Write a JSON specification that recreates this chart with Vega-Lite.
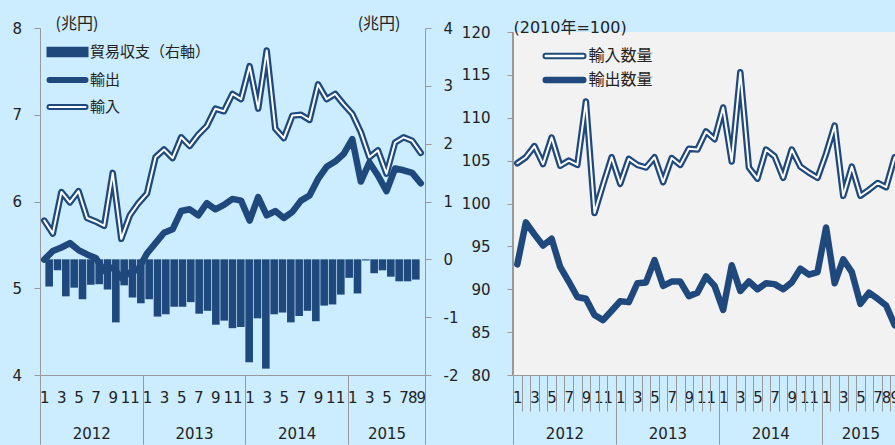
{
  "$schema": "https://vega.github.io/schema/vega-lite/v6.json",
  "background": "#CCECFF",
  "padding": {"left": 11, "top": 15, "right": -5, "bottom": 0},
  "spacing": 3,
  "datasets": {
    "trade": [
      {"m":1,"month":"2012-01","exp":5.33,"imp":5.78,"bal":-0.47,"impVol":104.7,"expVol":92.9},
      {"m":2,"month":"2012-02","exp":5.43,"imp":5.63,"bal":-0.19,"impVol":105.4,"expVol":97.8},
      {"m":3,"month":"2012-03","exp":5.47,"imp":6.11,"bal":-0.64,"impVol":106.7,"expVol":96.4},
      {"m":4,"month":"2012-04","exp":5.52,"imp":5.99,"bal":-0.49,"impVol":104.6,"expVol":95.1},
      {"m":5,"month":"2012-05","exp":5.44,"imp":6.12,"bal":-0.69,"impVol":107.7,"expVol":95.9},
      {"m":6,"month":"2012-06","exp":5.39,"imp":5.81,"bal":-0.44,"impVol":104.4,"expVol":92.6},
      {"m":7,"month":"2012-07","exp":5.35,"imp":5.77,"bal":-0.43,"impVol":105.0,"expVol":90.9},
      {"m":8,"month":"2012-08","exp":5.20,"imp":5.72,"bal":-0.52,"impVol":104.5,"expVol":89.1},
      {"m":9,"month":"2012-09","exp":5.24,"imp":6.33,"bal":-1.09,"impVol":111.9,"expVol":88.9},
      {"m":10,"month":"2012-10","exp":5.12,"imp":5.57,"bal":-0.45,"impVol":98.9,"expVol":87.0},
      {"m":11,"month":"2012-11","exp":5.18,"imp":5.84,"bal":-0.66,"impVol":102.2,"expVol":86.4},
      {"m":12,"month":"2012-12","exp":5.22,"imp":5.98,"bal":-0.76,"impVol":105.4,"expVol":87.5},
      {"m":13,"month":"2013-01","exp":5.40,"imp":6.09,"bal":-0.69,"impVol":102.3,"expVol":88.6},
      {"m":14,"month":"2013-02","exp":5.52,"imp":6.51,"bal":-0.99,"impVol":105.2,"expVol":88.5},
      {"m":15,"month":"2013-03","exp":5.64,"imp":6.60,"bal":-0.95,"impVol":104.5,"expVol":90.7},
      {"m":16,"month":"2013-04","exp":5.68,"imp":6.50,"bal":-0.82,"impVol":104.2,"expVol":90.8},
      {"m":17,"month":"2013-05","exp":5.89,"imp":6.74,"bal":-0.82,"impVol":105.4,"expVol":93.4},
      {"m":18,"month":"2013-06","exp":5.91,"imp":6.64,"bal":-0.74,"impVol":102.5,"expVol":90.4},
      {"m":19,"month":"2013-07","exp":5.84,"imp":6.77,"bal":-0.94,"impVol":105.3,"expVol":90.9},
      {"m":20,"month":"2013-08","exp":5.98,"imp":6.87,"bal":-0.89,"impVol":104.5,"expVol":90.9},
      {"m":21,"month":"2013-09","exp":5.91,"imp":7.07,"bal":-1.13,"impVol":106.4,"expVol":89.2},
      {"m":22,"month":"2013-10","exp":5.96,"imp":7.04,"bal":-1.06,"impVol":106.3,"expVol":89.6},
      {"m":23,"month":"2013-11","exp":6.03,"imp":7.24,"bal":-1.19,"impVol":108.4,"expVol":91.5},
      {"m":24,"month":"2013-12","exp":6.01,"imp":7.18,"bal":-1.17,"impVol":107.5,"expVol":90.4},
      {"m":25,"month":"2014-01","exp":5.78,"imp":7.56,"bal":-1.78,"impVol":111.2,"expVol":87.6},
      {"m":26,"month":"2014-02","exp":6.05,"imp":7.07,"bal":-1.02,"impVol":104.9,"expVol":92.8},
      {"m":27,"month":"2014-03","exp":5.84,"imp":7.74,"bal":-1.89,"impVol":115.3,"expVol":89.8},
      {"m":28,"month":"2014-04","exp":5.89,"imp":6.84,"bal":-0.95,"impVol":104.2,"expVol":90.9},
      {"m":29,"month":"2014-05","exp":5.81,"imp":6.73,"bal":-0.92,"impVol":102.9,"expVol":90.0},
      {"m":30,"month":"2014-06","exp":5.88,"imp":6.99,"bal":-1.09,"impVol":106.3,"expVol":90.7},
      {"m":31,"month":"2014-07","exp":6.01,"imp":7.00,"bal":-0.98,"impVol":105.5,"expVol":90.6},
      {"m":32,"month":"2014-08","exp":6.07,"imp":6.94,"bal":-0.89,"impVol":103.0,"expVol":90.0},
      {"m":33,"month":"2014-09","exp":6.26,"imp":7.35,"bal":-1.07,"impVol":106.3,"expVol":90.8},
      {"m":34,"month":"2014-10","exp":6.40,"imp":7.18,"bal":-0.80,"impVol":104.3,"expVol":92.4},
      {"m":35,"month":"2014-11","exp":6.46,"imp":7.24,"bal":-0.78,"impVol":103.6,"expVol":91.7},
      {"m":36,"month":"2014-12","exp":6.55,"imp":7.12,"bal":-0.61,"impVol":103.0,"expVol":92.0},
      {"m":37,"month":"2015-01","exp":6.72,"imp":7.01,"bal":-0.32,"impVol":105.8,"expVol":97.2},
      {"m":38,"month":"2015-02","exp":6.23,"imp":6.80,"bal":-0.59,"impVol":109.1,"expVol":90.7},
      {"m":39,"month":"2015-03","exp":6.45,"imp":6.51,"bal":-0.02,"impVol":100.9,"expVol":93.5},
      {"m":40,"month":"2015-04","exp":6.30,"imp":6.59,"bal":-0.24,"impVol":104.3,"expVol":92.0},
      {"m":41,"month":"2015-05","exp":6.12,"imp":6.32,"bal":-0.19,"impVol":100.9,"expVol":88.3},
      {"m":42,"month":"2015-06","exp":6.38,"imp":6.68,"bal":-0.30,"impVol":101.6,"expVol":89.6},
      {"m":43,"month":"2015-07","exp":6.36,"imp":6.74,"bal":-0.38,"impVol":102.4,"expVol":88.9},
      {"m":44,"month":"2015-08","exp":6.33,"imp":6.70,"bal":-0.38,"impVol":101.9,"expVol":88.1},
      {"m":45,"month":"2015-09","exp":6.21,"imp":6.56,"bal":-0.35,"impVol":105.4,"expVol":85.8}
    ]
  },
  "hconcat": [
    {
      "width": 385,
      "height": 347,
      "data": {"name": "trade"},
      "layer": [
        {
          "layer": [
            {
              "mark": {"type": "line", "stroke": "#1F497D", "strokeWidth": 6.5, "strokeJoin": "round", "strokeCap": "round"},
              "encoding": {
                "x": {"field": "m", "type": "quantitative", "scale": {"domain": [0.5, 45.5], "nice": false, "zero": false},
                  "axis": {"orient": "bottom", "values": [1,3,5,7,9,11,13,15,17,19,21,23,25,27,29,31,33,35,37,39,41,43,44,45], "labelExpr": "toString((datum.value-1)%12+1)", "ticks": false, "tickSize": 0, "domain": false, "labelPadding": 22, "labelBaseline": "middle", "labelAlign": "center", "title": null}},
                "y": {"field": "exp", "type": "quantitative", "scale": {"domain": [4, 8], "nice": false, "zero": false},
                  "axis": {"orient": "left", "values": [4,5,6,7,8], "format": "d", "tickSize": 6, "labelPadding": 12.5, "title": "(兆円)", "titleAngle": 0, "titleAlign": "left", "titleBaseline": "middle", "titleX": 15, "titleY": -5, "titleFont": "Noto Sans CJK JP", "titleFontSize": 16}}
              }
            },
            {
              "mark": {"type": "line", "stroke": "#1F497D", "strokeWidth": 6.5, "strokeJoin": "round", "strokeCap": "round"},
              "encoding": {
                "x": {"field": "m", "type": "quantitative", "scale": {"domain": [0.5, 45.5], "nice": false, "zero": false},
                  "axis": {"orient": "bottom", "values": [0.5, 12.5, 24.5, 36.5, 45.5], "labels": false, "tickSize": 69, "domain": true, "title": null}},
                "y": {"field": "imp", "type": "quantitative", "scale": {"domain": [4, 8], "nice": false, "zero": false},
                  "axis": {"orient": "left", "values": [4,5,6,7,8], "format": "d", "tickSize": 6, "labelPadding": 12.5, "title": "(兆円)", "titleAngle": 0, "titleAlign": "left", "titleBaseline": "middle", "titleX": 15, "titleY": -5, "titleFont": "Noto Sans CJK JP", "titleFontSize": 16}}
              }
            },
            {
              "mark": {"type": "line", "stroke": "#FFFFFF", "strokeWidth": 2, "strokeJoin": "round", "strokeCap": "round"},
              "encoding": {
                "x": {"field": "m", "type": "quantitative", "scale": {"domain": [0.5, 45.5], "nice": false, "zero": false},
                  "axis": {"orient": "bottom", "values": [6.5, 18.5, 30.5, 41], "labelExpr": "toString(2012+floor((datum.value-1)/12))", "ticks": false, "tickSize": 0, "domain": false, "labelPadding": 58, "labelBaseline": "middle", "labelAlign": "center", "title": null}},
                "y": {"field": "imp", "type": "quantitative", "scale": {"domain": [4, 8], "nice": false, "zero": false},
                  "axis": {"orient": "left", "values": [4,5,6,7,8], "format": "d", "tickSize": 6, "labelPadding": 12.5, "title": "(兆円)", "titleAngle": 0, "titleAlign": "left", "titleBaseline": "middle", "titleX": 15, "titleY": -5, "titleFont": "Noto Sans CJK JP", "titleFontSize": 16}}
              }
            }
          ],
          "resolve": {"scale": {"x": "independent"}}
        },
        {
          "mark": {"type": "bar", "color": "#1F497D", "width": 7.6},
          "encoding": {
            "x": {"field": "m", "type": "quantitative", "scale": {"domain": [0.5, 45.5], "nice": false, "zero": false}, "axis": null},
            "y": {"field": "bal", "type": "quantitative", "scale": {"domain": [-2, 4], "nice": false, "zero": false},
              "axis": {"orient": "right", "values": [-2,-1,0,1,2,3,4], "labelExpr": "toString(datum.value)", "tickSize": 6, "labelPadding": 12, "title": "(兆円)", "titleAngle": 0, "titleAlign": "right", "titleBaseline": "middle", "titleX": -25, "titleY": -5, "titleFont": "Noto Sans CJK JP", "titleFontSize": 16}},
            "y2": {"datum": 0}
          }
        },
        {
          "data": {"values": [{"s": "貿易収支（右軸）"}, {"s": "輸出"}, {"s": "輸入"}]},
          "mark": {"type": "point", "filled": true, "opacity": 0, "strokeWidth": 2},
          "encoding": {
            "shape": {"field": "s", "type": "nominal",
              "scale": {"domain": ["貿易収支（右軸）", "輸出", "輸入"], "range": ["M-2,-0.42H2V0.42H-2Z", "M-1.8,-0.2H1.8A0.2,0.2,0,0,1,1.8,0.2H-1.8A0.2,0.2,0,0,1,-1.8,-0.2Z", "M-1.8,-0.2H1.8A0.2,0.2,0,0,1,1.8,0.2H-1.8A0.2,0.2,0,0,1,-1.8,-0.2Z"]},
              "legend": {"title": null, "orient": "none", "direction": "vertical", "legendX": 16.5, "legendY": 13, "symbolSize": 400, "symbolStrokeWidth": 2, "symbolOpacity": 1, "labelFont": "Noto Sans CJK JP", "labelFontSize": 15, "labelColor": "#222222", "labelOffset": 11.5, "rowPadding": 8, "padding": 0, "labelLimit": 300}},
            "fill": {"field": "s", "type": "nominal",
              "scale": {"domain": ["貿易収支（右軸）", "輸出", "輸入"], "range": ["#1F497D", "#1F497D", "#FFFFFF"]},
              "legend": {"title": null, "orient": "none", "direction": "vertical", "legendX": 16.5, "legendY": 13, "symbolSize": 400, "symbolStrokeWidth": 2, "symbolOpacity": 1, "labelFont": "Noto Sans CJK JP", "labelFontSize": 15, "labelColor": "#222222", "labelOffset": 11.5, "rowPadding": 8, "padding": 0, "labelLimit": 300}},
            "stroke": {"field": "s", "type": "nominal",
              "scale": {"domain": ["貿易収支（右軸）", "輸出", "輸入"], "range": ["#1F497D", "#1F497D", "#1F497D"]},
              "legend": {"title": null, "orient": "none", "direction": "vertical", "legendX": 16.5, "legendY": 13, "symbolSize": 400, "symbolStrokeWidth": 2, "symbolOpacity": 1, "labelFont": "Noto Sans CJK JP", "labelFontSize": 15, "labelColor": "#222222", "labelOffset": 11.5, "rowPadding": 8, "padding": 0, "labelLimit": 300}}
          }
        }
      ],
      "resolve": {"scale": {"x": "independent", "y": "independent"}}
    },
    {
      "width": 386,
      "height": 347,
      "view": {"fill": "transparent", "stroke": null},
      "data": {"name": "trade"},
      "layer": [
        {
          "mark": {"type": "rect", "color": "#F2F2F2"},
          "encoding": {
            "x": {"datum": 0.5, "type": "quantitative", "scale": {"domain": [0.5, 45.5], "nice": false, "zero": false}, "axis": null},
            "x2": {"datum": 45.5},
            "y": {"datum": 80, "type": "quantitative", "scale": {"domain": [80, 120.47], "nice": false, "zero": false},
              "axis": {"orient": "left", "zindex": 1, "values": [80,85,90,95,100,105,110,115,120], "format": "d", "domain": false, "tickSize": 6, "labelPadding": 17, "title": "(2010年=100)", "titleAngle": 0, "titleAlign": "left", "titleBaseline": "middle", "titleX": 0, "titleY": -1, "titleFont": "DejaVu Sans, Noto Sans CJK JP", "titleFontSize": 16}},
            "y2": {"datum": 120}
          }
        },
        {
          "mark": {"type": "rule", "color": "#999999", "strokeWidth": 1},
          "encoding": {
            "x": {"datum": 0.5, "type": "quantitative", "scale": {"domain": [0.5, 45.5], "nice": false, "zero": false}, "axis": null},
            "y": {"datum": 80, "type": "quantitative", "scale": {"domain": [80, 120.47], "nice": false, "zero": false},
              "axis": {"orient": "left", "zindex": 1, "values": [80,85,90,95,100,105,110,115,120], "format": "d", "domain": false, "tickSize": 6, "labelPadding": 17, "title": "(2010年=100)", "titleAngle": 0, "titleAlign": "left", "titleBaseline": "middle", "titleX": 0, "titleY": -1, "titleFont": "DejaVu Sans, Noto Sans CJK JP", "titleFontSize": 16}},
            "y2": {"datum": 120}
          }
        },
        {
          "mark": {"type": "line", "stroke": "#1F497D", "strokeWidth": 6.5, "strokeJoin": "round", "strokeCap": "round"},
          "encoding": {
            "x": {"field": "m", "type": "quantitative", "scale": {"domain": [0.5, 45.5], "nice": false, "zero": false},
              "axis": {"orient": "bottom", "values": [1,3,5,7,9,11,13,15,17,19,21,23,25,27,29,31,33,35,37,39,41,43,44,45], "labelExpr": "toString((datum.value-1)%12+1)", "ticks": false, "tickSize": 0, "domain": false, "labelPadding": 22, "labelBaseline": "middle", "labelAlign": "center", "title": null}},
            "y": {"field": "expVol", "type": "quantitative", "scale": {"domain": [80, 120.47], "nice": false, "zero": false},
              "axis": {"orient": "left", "zindex": 1, "values": [80,85,90,95,100,105,110,115,120], "format": "d", "domain": false, "tickSize": 6, "labelPadding": 17, "title": "(2010年=100)", "titleAngle": 0, "titleAlign": "left", "titleBaseline": "middle", "titleX": 0, "titleY": -1, "titleFont": "DejaVu Sans, Noto Sans CJK JP", "titleFontSize": 16}}
          }
        },
        {
          "mark": {"type": "line", "stroke": "#1F497D", "strokeWidth": 6.5, "strokeJoin": "round", "strokeCap": "round"},
          "encoding": {
            "x": {"field": "m", "type": "quantitative", "scale": {"domain": [0.5, 45.5], "nice": false, "zero": false},
              "axis": {"orient": "bottom", "values": [0.5,1.5,2.5,3.5,4.5,5.5,6.5,7.5,8.5,9.5,10.5,11.5,12.5,13.5,14.5,15.5,16.5,17.5,18.5,19.5,20.5,21.5,22.5,23.5,24.5,25.5,26.5,27.5,28.5,29.5,30.5,31.5,32.5,33.5,34.5,35.5,36.5,37.5,38.5,39.5,40.5,41.5,42.5,43.5,44.5,45.5], "labels": false, "tickSize": {"condition": {"test": "datum.value % 12 == 0.5", "value": 69}, "value": 36}, "domain": true, "title": null}},
            "y": {"field": "impVol", "type": "quantitative", "scale": {"domain": [80, 120.47], "nice": false, "zero": false},
              "axis": {"orient": "left", "zindex": 1, "values": [80,85,90,95,100,105,110,115,120], "format": "d", "domain": false, "tickSize": 6, "labelPadding": 17, "title": "(2010年=100)", "titleAngle": 0, "titleAlign": "left", "titleBaseline": "middle", "titleX": 0, "titleY": -1, "titleFont": "DejaVu Sans, Noto Sans CJK JP", "titleFontSize": 16}}
          }
        },
        {
          "mark": {"type": "line", "stroke": "#FFFFFF", "strokeWidth": 2, "strokeJoin": "round", "strokeCap": "round"},
          "encoding": {
            "x": {"field": "m", "type": "quantitative", "scale": {"domain": [0.5, 45.5], "nice": false, "zero": false},
              "axis": {"orient": "bottom", "values": [6.5, 18.5, 30.5, 41], "labelExpr": "toString(2012+floor((datum.value-1)/12))", "ticks": false, "tickSize": 0, "domain": false, "labelPadding": 58, "labelBaseline": "middle", "labelAlign": "center", "title": null}},
            "y": {"field": "impVol", "type": "quantitative", "scale": {"domain": [80, 120.47], "nice": false, "zero": false},
              "axis": {"orient": "left", "zindex": 1, "values": [80,85,90,95,100,105,110,115,120], "format": "d", "domain": false, "tickSize": 6, "labelPadding": 17, "title": "(2010年=100)", "titleAngle": 0, "titleAlign": "left", "titleBaseline": "middle", "titleX": 0, "titleY": -1, "titleFont": "DejaVu Sans, Noto Sans CJK JP", "titleFontSize": 16}}
          }
        },
        {
          "data": {"values": [{"s": "輸入数量"}, {"s": "輸出数量"}]},
          "mark": {"type": "point", "filled": true, "opacity": 0, "strokeWidth": 2},
          "encoding": {
            "shape": {"field": "s", "type": "nominal",
              "scale": {"domain": ["輸入数量", "輸出数量"], "range": ["M-1.88,-0.22H1.88A0.22,0.22,0,0,1,1.88,0.22H-1.88A0.22,0.22,0,0,1,-1.88,-0.22Z", "M-1.88,-0.22H1.88A0.22,0.22,0,0,1,1.88,0.22H-1.88A0.22,0.22,0,0,1,-1.88,-0.22Z"]},
              "legend": {"title": null, "orient": "none", "direction": "vertical", "legendX": 40.5, "legendY": 17, "symbolSize": 400, "symbolStrokeWidth": 2, "symbolOpacity": 1, "labelFont": "Noto Sans CJK JP", "labelFontSize": 16, "labelColor": "#222222", "labelOffset": 13, "rowPadding": 5, "padding": 0, "labelLimit": 300}},
            "fill": {"field": "s", "type": "nominal",
              "scale": {"domain": ["輸入数量", "輸出数量"], "range": ["#FFFFFF", "#1F497D"]},
              "legend": {"title": null, "orient": "none", "direction": "vertical", "legendX": 40.5, "legendY": 17, "symbolSize": 400, "symbolStrokeWidth": 2, "symbolOpacity": 1, "labelFont": "Noto Sans CJK JP", "labelFontSize": 16, "labelColor": "#222222", "labelOffset": 13, "rowPadding": 5, "padding": 0, "labelLimit": 300}},
            "stroke": {"field": "s", "type": "nominal",
              "scale": {"domain": ["輸入数量", "輸出数量"], "range": ["#1F497D", "#1F497D"]},
              "legend": {"title": null, "orient": "none", "direction": "vertical", "legendX": 40.5, "legendY": 17, "symbolSize": 400, "symbolStrokeWidth": 2, "symbolOpacity": 1, "labelFont": "Noto Sans CJK JP", "labelFontSize": 16, "labelColor": "#222222", "labelOffset": 13, "rowPadding": 5, "padding": 0, "labelLimit": 300}}
          }
        }
      ],
      "resolve": {"scale": {"x": "independent"}}
    }
  ],
  "resolve": {"scale": {"shape": "independent", "fill": "independent", "stroke": "independent"}},
  "config": {
    "view": {"fill": "#F2F2F2", "stroke": null},
    "axis": {"grid": false, "labelFont": "DejaVu Sans", "labelFontSize": 15, "labelColor": "#222222", "domainColor": "#999999", "tickColor": "#999999", "domainWidth": 1, "tickWidth": 1, "titleFontWeight": "normal", "titleColor": "#222222", "labelOverlap": false, "labelFlush": false, "labelBound": false},
    "title": {"color": "#222222"}
  }
}
